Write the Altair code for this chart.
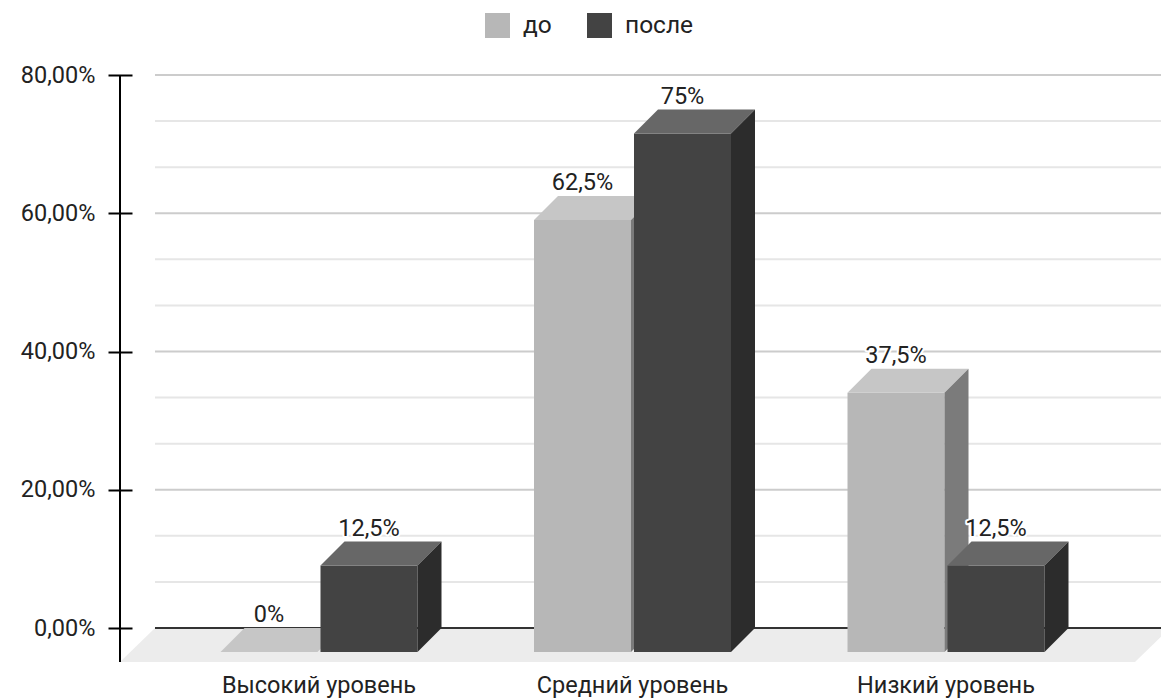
import altair as alt
import pandas as pd

# ---- data -------------------------------------------------------------
categories = ["Высокий уровень", "Средний уровень", "Низкий уровень"]
series = ["до", "после"]
values_before = [0, 62.5, 37.5]
values_after = [12.5, 75, 12.5]
y_ticks = [0, 20, 40, 60, 80]

# ---- style ------------------------------------------------------------
FONT = "Roboto"
TEXT_SIZE = 23.5
LEGEND_SIZE = 24.5
TEXT_COLOR = "#222222"
front_colors = ["#b7b7b7", "#434343"]
top_colors = ["#c6c6c6", "#676767"]
side_colors = ["#7b7b7b", "#2c2c2c"]

# ---- layout (x in category slots, y in percent) ------------------------
W, H = 1041, 587
SLOT_PX = 313.5
PCT_PX = 6.9125
X_MIN = -199 / SLOT_PX
X_MAX = X_MIN + W / SLOT_PX
Y_MAX = 80
Y_MIN = Y_MAX - H / PCT_PX
BAR_W = 97 / SLOT_PX
HALF_GAP = 1.5 / SLOT_PX
DX = 24 / SLOT_PX          # bar depth, horizontal
DY = 24 / PCT_PX           # bar depth, vertical
FLOOR_DX = 35 / SLOT_PX
FLOOR_RIGHT = 816 / SLOT_PX

rows = []
for ci, cat in enumerate(categories):
    for si, vals in enumerate([values_before, values_after]):
        rows.append({"category": cat, "ci": ci, "series": series[si], "si": si,
                     "value": vals[ci]})
bars = pd.DataFrame(rows)

xscale = alt.Scale(domain=[X_MIN, X_MAX], nice=False, zero=False)
yscale = alt.Scale(domain=[Y_MIN, Y_MAX], nice=False, zero=False)
yaxis = alt.Axis(
    values=y_ticks, title=None, grid=False, domain=False,
    labelExpr="replace(format(datum.value / 100, '.2%'), '.', ',')",
    tickSize=24, offset=-12, tickWidth=2, tickColor="#000000",
    labelPadding=13, labelFont=FONT, labelFontSize=TEXT_SIZE, labelColor=TEXT_COLOR,
)


def X(field):
    return alt.X(f"{field}:Q", scale=xscale, axis=None, stack=None)


def Y(field):
    return alt.Y(f"{field}:Q", scale=yscale, axis=yaxis, stack=None)


def c(v):
    return repr(float(v))


base = alt.Chart(bars).transform_calculate(
    xl=f"datum.ci + (datum.si == 0 ? -({c(HALF_GAP)} + {c(BAR_W)}) : {c(HALF_GAP)})",
).transform_calculate(
    xr=f"datum.xl + {c(BAR_W)}",
    key="datum.category + '|' + datum.series",
    topc=f"datum.si == 0 ? '{top_colors[0]}' : '{top_colors[1]}'",
    sidec=f"datum.si == 0 ? '{side_colors[0]}' : '{side_colors[1]}'",
)

one = pd.DataFrame({"k": [0]})

# floor of the 3D box
floor = alt.Chart(one).transform_calculate(
    e0="0", e1="1"
).transform_fold(["e0", "e1"], as_=["nm", "edge"]).transform_calculate(
    fy=f"{c(Y_MIN)} + datum.edge * {c(-Y_MIN)}",
    fx0=f"{c(X_MIN)} + datum.edge * {c(FLOOR_DX)}",
    fx1=f"{c(FLOOR_RIGHT)} + datum.edge * {c(FLOOR_DX)}",
).mark_area(orient="horizontal", color="#ececec").encode(
    y=Y("fy"), x=X("fx0"), x2="fx1"
)

# back-wall gridlines
grid = alt.Chart(alt.sequence(1, 13, as_="k")).transform_calculate(
    gy="datum.k * 20 / 3",
    gx0=c(X_MIN + FLOOR_DX),
    gx1=c(X_MAX),
    gcol="datum.k % 3 == 0 ? '#cccccc' : '#e6e6e6'",
).mark_rule(strokeWidth=2).encode(
    x=X("gx0"), x2="gx1", y=Y("gy"), color=alt.Color("gcol:N", scale=None)
)

zero_line = alt.Chart(one).transform_calculate(
    zx0=c(X_MIN + FLOOR_DX), zx1=c(X_MAX), zy="0"
).mark_rule(strokeWidth=2, color="#333333").encode(
    x=X("zx0"), x2="zx1", y=Y("zy")
)

axis_line = alt.Chart(one).transform_calculate(
    ax=c(X_MIN), ay0=c(Y_MIN), ay1=c(Y_MAX)
).mark_rule(strokeWidth=2, color="#000000").encode(
    x=X("ax"), y=Y("ay0"), y2="ay1"
)


def faces(si):
    b = base.transform_filter(f"datum.si == {si}")
    front = b.transform_calculate(
        yb=f"-{c(DY)}", yt=f"datum.value - {c(DY)}"
    ).mark_rect().encode(
        x=X("xl"), x2="xr", y=Y("yb"), y2="yt",
        color=alt.Color(
            "series:N",
            scale=alt.Scale(domain=series, range=front_colors),
            legend=alt.Legend(
                title=None, orient="none", direction="horizontal",
                legendX=365, legendY=-62, padding=0,
                symbolType="square", symbolSize=625, symbolStrokeWidth=0,
                labelFont=FONT, labelFontSize=LEGEND_SIZE, labelColor=TEXT_COLOR,
                labelOffset=13, columnPadding=35,
            ),
        ),
    )
    folded = b.transform_calculate(e0="0", e1="1").transform_fold(
        ["e0", "e1"], as_=["nm", "edge"]
    )
    top = folded.transform_calculate(
        ty=f"datum.value - {c(DY)} + datum.edge * {c(DY)}",
        tx0=f"datum.xl + datum.edge * {c(DX)}",
        tx1=f"datum.xr + datum.edge * {c(DX)}",
    ).mark_area(orient="horizontal").encode(
        y=Y("ty"), x=X("tx0"), x2="tx1", detail="key:N",
        color=alt.Color("topc:N", scale=None),
    )
    side = folded.transform_calculate(
        sx=f"datum.xr + datum.edge * {c(DX)}",
        sy0=f"-{c(DY)} + datum.edge * {c(DY)}",
        sy1=f"datum.value - {c(DY)} + datum.edge * {c(DY)}",
    ).mark_area(orient="vertical").encode(
        x=X("sx"), y=Y("sy0"), y2="sy1", detail="key:N",
        color=alt.Color("sidec:N", scale=None),
    )
    return [front, top, side]


label_base = base.transform_calculate(
    lx="(datum.xl + datum.xr) / 2",
    txt="replace(format(datum.value, '~g'), '.', ',') + '%'",
)
halo = label_base.mark_text(
    font=FONT, fontSize=TEXT_SIZE, baseline="alphabetic", dy=-6,
    stroke="#ffffff", strokeWidth=4, strokeJoin="round", color="#ffffff",
).encode(x=X("lx"), y=Y("value"), text="txt:N")
labels = label_base.mark_text(
    font=FONT, fontSize=TEXT_SIZE, baseline="alphabetic", dy=-6, color=TEXT_COLOR,
).encode(x=X("lx"), y=Y("value"), text="txt:N")

cat_df = pd.DataFrame({"category": categories, "ci": list(range(len(categories)))})
cat_labels = alt.Chart(cat_df).transform_calculate(
    cy=c(Y_MIN)
).mark_text(
    font=FONT, fontSize=TEXT_SIZE, baseline="alphabetic", dy=31, color=TEXT_COLOR
).encode(x=X("ci"), y=Y("cy"), text="category:N")

chart = alt.layer(
    floor, grid, zero_line, axis_line,
    *faces(0), *faces(1),
    halo, labels, cat_labels,
).properties(
    width=W, height=H,
    autosize=alt.AutoSizeParams(type="none"),
    padding={"left": 120, "top": 75, "right": 0, "bottom": 37},
    background="#ffffff",
).configure_view(strokeWidth=0)

chart.save("out.html", embed_options={"renderer": "svg", "actions": False})
